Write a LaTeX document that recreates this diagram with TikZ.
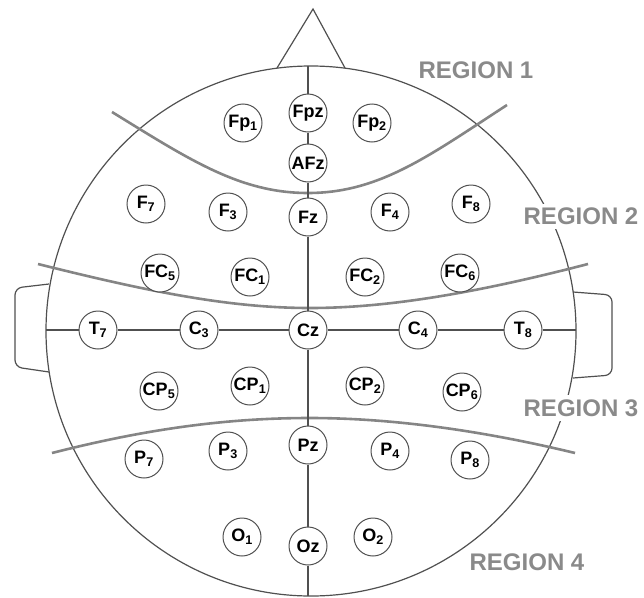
\documentclass[tikz,border=0pt]{standalone}
\usepackage{fontspec}
\setsansfont{Liberation Sans}
\usetikzlibrary{positioning}
\definecolor{headgray}{HTML}{505050}
\definecolor{regiongray}{HTML}{858585}
\definecolor{labelgray}{HTML}{8A8A8A}

\begin{document}
\begin{tikzpicture}[
            x=1pt, y=-1pt,
            electrode/.style={draw=headgray, line width=1pt, circle, fill=white, minimum size=38pt, inner sep=0pt, font=\sffamily\bfseries\fontsize{18}{18}\selectfont},
            outline/.style={draw=headgray, line width=1.2pt},
            boundary/.style={draw=regiongray, line width=2.6pt},
            region/.style={text=labelgray, fill=white, inner sep=4pt, font=\sffamily\bfseries\fontsize{24}{24}\selectfont}
        ]
        \useasboundingbox (0,0) rectangle (644,597);

        % Head, nose and ears
        \coordinate (center) at (311,331);
        \draw[outline] (center) circle[radius=265];
        \draw[outline] (277,68) -- (313,9) -- (345,68);
        \draw[outline, rounded corners=7pt] (49,284) -- (15,288) -- (15,367) -- (49,372);
        \draw[outline, rounded corners=7pt] (573,292) -- (612,295) -- (612,375) -- (573,378);
        \coordinate (nasion) at (308,66);
        \coordinate (inion) at (308,596);
        \coordinate (leftear) at (46,330);
        \coordinate (rightear) at (576,330);

        % Region boundaries
        \draw[boundary] (112,112) .. controls (190,160) and (240,193) .. (308,193) .. controls (380,193) and (430,155) .. (507,105);
        \draw[boundary] (38,264) .. controls (150,292) and (230,308) .. (310,308) .. controls (390,308) and (480,292) .. (588,264);
        \draw[boundary] (52,453) .. controls (150,428) and (230,418) .. (310,418) .. controls (390,418) and (480,430) .. (575,453);

        % Region labels
        \node[region] (region1) at (476,70) {REGION 1};
        \node[region] (region2) at (581,216) {REGION 2};
        \node[region] (region3) at (581,408) {REGION 3};
        \node[region] (region4) at (527,562) {REGION 4};

        % Frontal electrodes
        \node[electrode] (fp1) at (243,123) {Fp\textsubscript{1}};
        \node[electrode] (fpz) at (308,113) {Fpz};
        \node[electrode] (fp2) at (372,123) {Fp\textsubscript{2}};
        \node[electrode] (afz) at (308,163) {AFz};
        \node[electrode] (f7) at (146,204) {F\textsubscript{7}};
        \node[electrode] (f3) at (228,212) {F\textsubscript{3}};
        \node[electrode] (fz) at (308,217) {Fz};
        \node[electrode] (f4) at (390,212) {F\textsubscript{4}};
        \node[electrode] (f8) at (471,204) {F\textsubscript{8}};
        \node[electrode] (fc5) at (160,273) {FC\textsubscript{5}};
        \node[electrode] (fc1) at (250,277) {FC\textsubscript{1}};
        \node[electrode] (fc2) at (365,277) {FC\textsubscript{2}};
        \node[electrode] (fc6) at (460,273) {FC\textsubscript{6}};

        % Central electrodes
        \node[electrode] (t7) at (98,330) {T\textsubscript{7}};
        \node[electrode] (c3) at (199,330) {C\textsubscript{3}};
        \node[electrode] (cz) at (308,330) {Cz};
        \node[electrode] (c4) at (418,330) {C\textsubscript{4}};
        \node[electrode] (t8) at (523,330) {T\textsubscript{8}};

        % Parietal and occipital electrodes
        \node[electrode] (cp5) at (159,391) {CP\textsubscript{5}};
        \node[electrode] (cp1) at (250,386) {CP\textsubscript{1}};
        \node[electrode] (cp2) at (365,386) {CP\textsubscript{2}};
        \node[electrode] (cp6) at (462,392) {CP\textsubscript{6}};
        \node[electrode] (p7) at (144,459) {P\textsubscript{7}};
        \node[electrode] (p3) at (228,451) {P\textsubscript{3}};
        \node[electrode] (pz) at (308,445) {Pz};
        \node[electrode] (p4) at (390,451) {P\textsubscript{4}};
        \node[electrode] (p8) at (470,460) {P\textsubscript{8}};
        \node[electrode] (o1) at (242,537) {O\textsubscript{1}};
        \node[electrode] (oz) at (308,546) {Oz};
        \node[electrode] (o2) at (373,537) {O\textsubscript{2}};

        % Midline
        \draw[outline] (nasion) -- (fpz);
        \draw[outline] (fpz) -- (afz);
        \draw[outline] (afz) -- (fz);
        \draw[outline] (fz) -- (cz);
        \draw[outline] (cz) -- (pz);
        \draw[outline] (pz) -- (oz);
        \draw[outline] (oz) -- (inion);

        % Ear to ear line
        \draw[outline] (leftear) -- (t7);
        \draw[outline] (t7) -- (c3);
        \draw[outline] (c3) -- (cz);
        \draw[outline] (cz) -- (c4);
        \draw[outline] (c4) -- (t8);
        \draw[outline] (t8) -- (rightear);
    \end{tikzpicture}
\end{document}
